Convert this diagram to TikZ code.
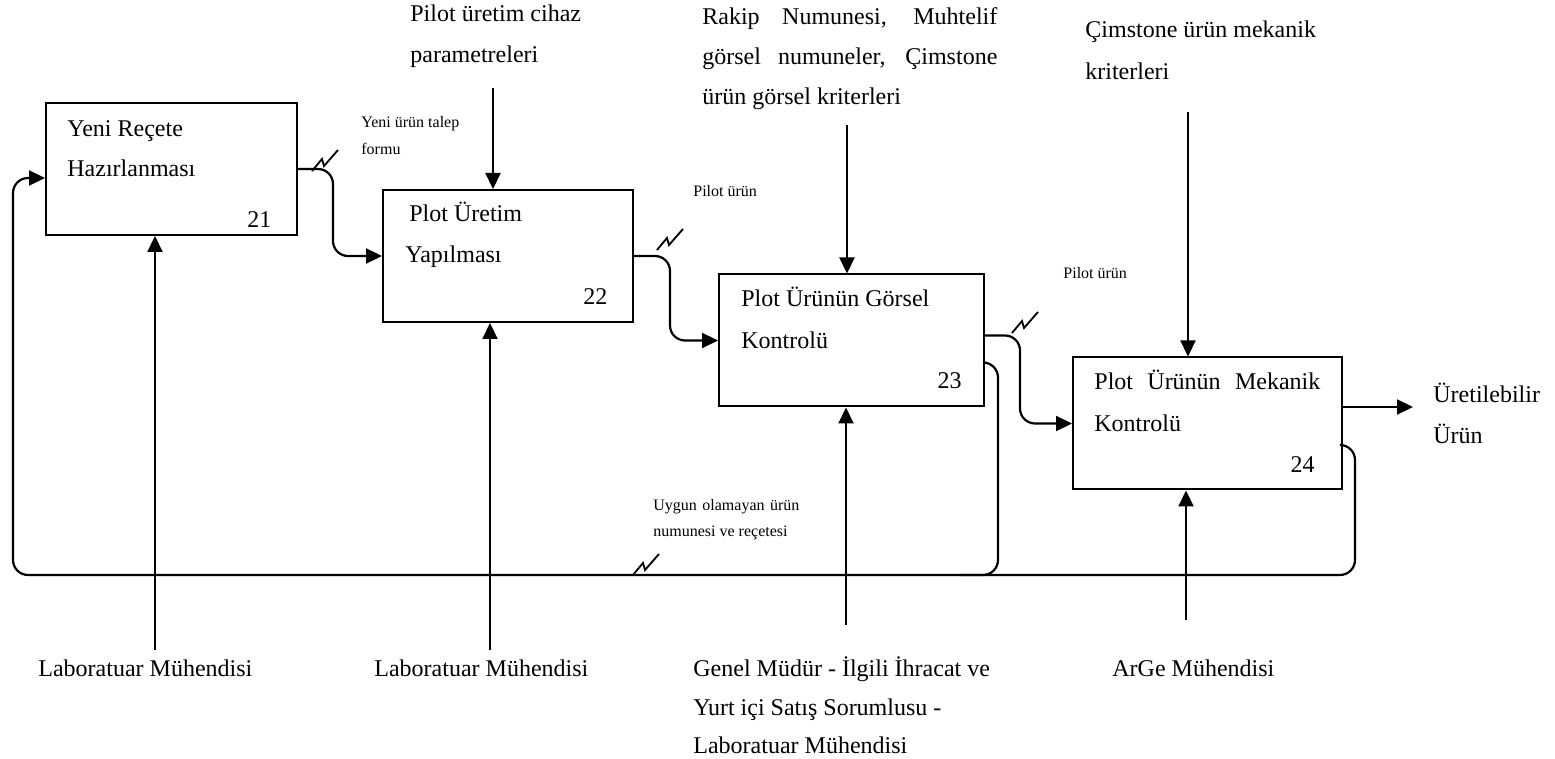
\documentclass[tikz,border=0pt]{standalone}
\usepackage{fontspec}
\setmainfont{Liberation Serif}
\usetikzlibrary{arrows.meta, calc}
\tikzset{
  >=latex,
  % kutular
  box/.style={draw, line width=1pt, inner sep=0pt, minimum height=66pt},
  % baglantilar
  connect/.style={line width=1.1pt, rounded corners=7.5pt},
  connect arrow/.style={connect, -{Triangle[length=8pt,width=7.5pt]}},
  squiggle/.style={line width=0.9pt},
  % yazilar
  txt/.style={anchor=base west, inner sep=0pt, font=\fontsize{12}{14}\selectfont},
  txt small/.style={txt, font=\fontsize{8}{10}\selectfont},
}
% ok uzerindeki kirik isaret
\newcommand{\kirik}[1]{\draw[squiggle] (#1) -- ++(10,-12) -- ++(2,7) -- ++(14,-16);}

\begin{document}
\begin{tikzpicture}[x=0.5pt, y=-0.5pt]
  \useasboundingbox (0,0) rectangle (1555,759);

  % kutular
  \node[box, minimum width=125.5pt] (b21) at (171.5,169) {};
  \node[box, minimum width=125pt] (b22) at (508,256) {};
  \node[box, minimum width=132.5pt] (b23) at (851.5,340.5) {};
  \node[box, minimum width=134.5pt] (b24) at (1207.5,423.5) {};

  % kutu yazilari
  \node[txt] (t21a) at (67,137) {Yeni Reçete};
  \node[txt] (t21b) at (67,177) {Hazırlanması};
  \node[txt] (n21) at (247,228) {21};
  \node[txt] (t22a) at (409,222) {Plot Üretim};
  \node[txt] (t22b) at (405,263) {Yapılması};
  \node[txt] (n22) at (583,305) {22};
  \node[txt] (t23a) at (741,307) {Plot Ürünün Görsel};
  \node[txt] (t23b) at (741,349) {Kontrolü};
  \node[txt, anchor=base east] (n23) at (962,389) {23};
  \node[txt] (t24a) at (1094,390) {\makebox[113pt][s]{Plot Ürünün Mekanik}};
  \node[txt] (t24b) at (1094,432) {Kontrolü};
  \node[txt, anchor=base east] (n24) at (1315,473) {24};

  % akislar
  \draw[connect arrow] (b21.east) -- (333,169) -- (333,256) -- (b22.west);
  \draw[connect arrow] (b22.east) -- (670,256) -- (670,340.5) -- (b23.west);
  \draw[connect arrow] ($(b23.east)+(0,-5)$) -- (1020,335.5) -- (1020,423.5) -- (b24.west);
  \coordinate (out) at (1413,407);
  \draw[connect arrow] (b24.east |- out) -- (out);
  \kirik{312,171}
  \kirik{657,250}
  \kirik{1012,333}

  % geri donus
  \draw[connect arrow] ($(b24.east)+(0,21.5)$) -- (1355,445) -- (1355,575)
    -- (13,575) -- (13,178) -- ($(b21.west)+(0,9)$);
  \draw[connect] ($(b23.east)+(0,22)$) -- (998,362.5) -- (998,575) -- (960,575);
  \kirik{633,575}

  % kontroller
  \coordinate (k22) at (493,88);
  \coordinate (k23) at (847,125);
  \coordinate (k24) at (1188,112);
  \draw[connect arrow] (k22) -- (k22 |- b22.north);
  \draw[connect arrow] (k23) -- (k23 |- b23.north);
  \draw[connect arrow] (k24) -- (k24 |- b24.north);

  % mekanizmalar
  \coordinate (m21) at (155,650);
  \coordinate (m22) at (490,650);
  \coordinate (m23) at (846,625);
  \coordinate (m24) at (1186,620);
  \draw[connect arrow] (m21) -- (m21 |- b21.south);
  \draw[connect arrow] (m22) -- (m22 |- b22.south);
  \draw[connect arrow] (m23) -- (m23 |- b23.south);
  \draw[connect arrow] (m24) -- (m24 |- b24.south);

  % ok etiketleri
  \node[txt small] (l1a) at (361,128) {Yeni ürün talep};
  \node[txt small] (l1b) at (361,155) {formu};
  \node[txt small] (l2) at (693,197) {Pilot ürün};
  \node[txt small] (l3) at (1063,279) {Pilot ürün};
  \node[txt small] (l4a) at (653,510) {\makebox[73pt][s]{Uygun olamayan ürün}};
  \node[txt small] (l4b) at (653,537) {numunesi ve reçetesi};
  \node[txt] (c1a) at (1433,403) {Üretilebilir};
  \node[txt] (c1b) at (1433,444) {Ürün};

  % ust etiketler
  \node[txt] (u22a) at (410,22) {Pilot üretim cihaz};
  \node[txt] (u22b) at (410,63) {parametreleri};
  \node[txt] (u23a) at (702,25) {\makebox[147.5pt][s]{Rakip Numunesi, Muhtelif}};
  \node[txt] (u23b) at (702,65) {\makebox[147.5pt][s]{görsel numuneler, Çimstone}};
  \node[txt] (u23c) at (702,105) {ürün görsel kriterleri};
  \node[txt] (u24a) at (1085,38) {Çimstone ürün mekanik};
  \node[txt] (u24b) at (1085,80) {kriterleri};

  % alt etiketler
  \node[txt] (a21) at (38,676) {Laboratuar Mühendisi};
  \node[txt] (a22) at (374,676) {Laboratuar Mühendisi};
  \node[txt] (a23a) at (693,676) {Genel Müdür - İlgili İhracat ve};
  \node[txt] (a23b) at (693,715) {Yurt içi Satış Sorumlusu -};
  \node[txt] (a23c) at (693,753) {Laboratuar Mühendisi};
  \node[txt] (a24) at (1112,676) {ArGe Mühendisi};
\end{tikzpicture}
\end{document}
